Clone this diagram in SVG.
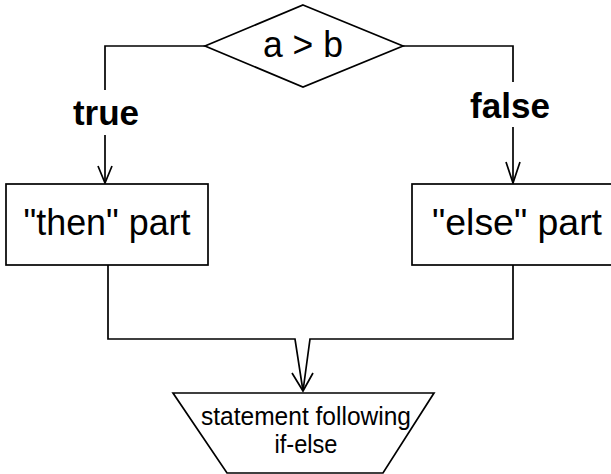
<svg xmlns="http://www.w3.org/2000/svg" width="611" height="474" viewBox="0 0 611 474">
<style>
.shape{fill:#fff;stroke:#000;stroke-width:1.7}
.line{fill:none;stroke:#000;stroke-width:1.7}
.t{font-family:"Liberation Sans",Arial,sans-serif;fill:#000;text-anchor:middle}
.big{font-size:36px}
.bold{font-size:35px;font-weight:bold}
.small{font-size:26px}
</style>
<rect width="611" height="474" fill="#fff"/>
<g id="connectors">
<path class="line" d="M205,46 H105 V90"/>
<path class="line" d="M105,135 V183"/>
<path class="line" d="M98,166 L105,183 L112,166"/>
<path class="line" d="M403,46 H513 V82"/>
<path class="line" d="M513,127 V183"/>
<path class="line" d="M506,162 L513,183 L520,162"/>
<path class="line" d="M108,265 V339 H295 L303,391"/>
<path class="line" d="M513,265 V339 H310 L303,391"/>
<path class="line" d="M292,373 L303,391 L313,373"/>
</g>
<g id="label-true"><text class="t bold" x="106" y="125">true</text></g>
<g id="label-false"><text class="t bold" x="510" y="118">false</text></g>
<g id="decision">
<polygon class="shape" points="303,5 403,46 303,87 205,46"/>
<text class="t big" x="303" y="57" textLength="80" lengthAdjust="spacingAndGlyphs">a &gt; b</text>
</g>
<g id="then-part">
<rect class="shape" x="6" y="184" width="202" height="81"/>
<text class="t big" x="107" y="235" textLength="167" lengthAdjust="spacingAndGlyphs">"then" part</text>
</g>
<g id="else-part">
<rect class="shape" x="412" y="184" width="210" height="81"/>
<text class="t big" x="517" y="235" textLength="170" lengthAdjust="spacingAndGlyphs">"else" part</text>
</g>
<g id="next-statement">
<polygon class="shape" points="173,393 434,393 383,473 227,473"/>
<text class="t small" x="306" y="425" textLength="210" lengthAdjust="spacingAndGlyphs">statement following</text>
<text class="t small" x="306" y="453" textLength="63" lengthAdjust="spacingAndGlyphs">if-else</text>
</g>
</svg>
